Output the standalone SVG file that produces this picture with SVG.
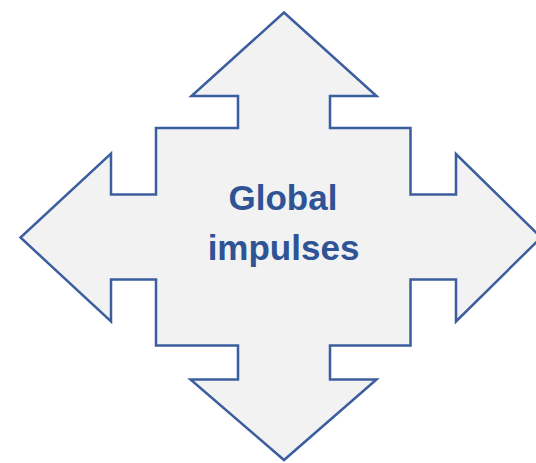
<svg xmlns="http://www.w3.org/2000/svg" width="536" height="463" viewBox="0 0 536 463">
<style>
.shape{fill:#F2F2F2;stroke:#3A5E9E;stroke-width:2.5;stroke-linejoin:miter}
.lbl{font-family:"Liberation Sans",Arial,sans-serif;font-weight:bold;font-size:35px;fill:#2F5496;text-anchor:middle}
</style>
<rect width="536" height="463" fill="#FFFFFF"/>
<g id="node-global-impulses">
<path class="shape" d="M284,12.5 L376.5,96 L330,96 L330,128 L410.5,128 L410.5,194.5 L456,194.5 L456,154 L541,237.5 L456,321.5 L456,279.5 L410.5,279.5 L410.5,345.5 L330,345.5 L330,379.5 L376.5,379.5 L284,460 L190.5,379.5 L238,379.5 L238,345.5 L156,345.5 L156,279.5 L111,279.5 L111,321.5 L20.5,237.5 L111,153.5 L111,194.5 L156,194.5 L156,128 L238,128 L238,96 L191.5,96 Z"/>
<text class="lbl" x="283" y="209.5">Global</text>
<text class="lbl" x="283.5" y="259.5">impulses</text>
</g>
<g id="connectors"></g>
</svg>
